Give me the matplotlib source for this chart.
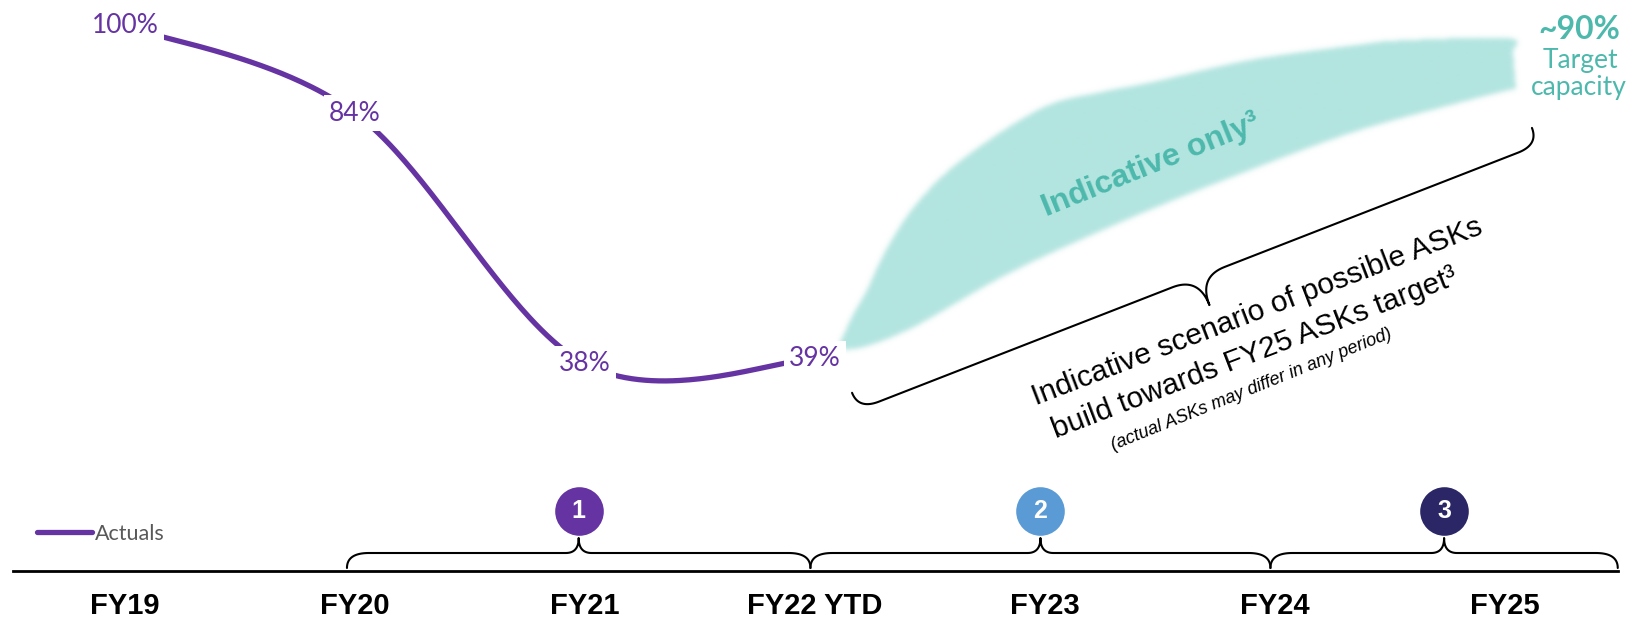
import numpy as np
import matplotlib
matplotlib.use("Agg")
import matplotlib.pyplot as plt
from matplotlib.path import Path

# ---------------- data ----------------
years = ["FY19", "FY20", "FY21", "FY22 YTD", "FY23", "FY24", "FY25"]
actual_values = [100, 84, 38, 39]
actual_labels = ["100%", "84%", "38%", "39%"]

# indicative scenario band (x = year index, v = % of pre-COVID capacity)
band_upper_x = [3.100, 3.161, 3.222, 3.304, 3.439, 3.643, 3.983, 4.239, 4.457, 4.887, 5.339, 5.543, 6.009, 6.030]
band_upper_v = [41.5, 47.0, 51.6, 58.9, 67.5, 75.8, 85.0, 87.9, 89.7, 93.8, 96.5, 97.4, 97.8, 95.6]
band_lower_x = [6.043, 5.791, 5.339, 4.887, 4.435, 3.983, 3.757, 3.439, 3.239, 3.130]
band_lower_v = [88.6, 85.9, 80.6, 73.6, 66.0, 57.6, 52.8, 45.1, 41.5, 40.6]
target_label = "~90%"

phase_numbers = ["1", "2", "3"]
phase_start = [0.965, 2.98, 4.98]
phase_end = [2.98, 4.98, 6.49]
phase_colors = ["#6633A3", "#5B9BD5", "#2B2767"]

PURPLE = "#6633A3"
TEAL_FILL = "#B3E5E0"
TEAL_TEXT = "#4DB8AC"

# ---------------- figure ----------------
fig = plt.figure(figsize=(16.32, 6.17), dpi=100)
ax = fig.add_axes([0, 0, 1, 1])
XLIM = (-0.5435, 6.552)
YLIM = (-8.44, 104.77)
ax.set_xlim(*XLIM)
ax.set_ylim(*YLIM)


def excel_smooth(x, y, n=60):
    P = np.column_stack([x, y]).astype(float)
    out = []
    for i in range(len(P) - 1):
        p0 = P[i - 1] if i > 0 else P[i]
        p1, p2 = P[i], P[i + 1]
        p3 = P[i + 2] if i + 2 < len(P) else P[i + 1]
        c1 = p1 + (p2 - p0) / 6.0
        c2 = p2 - (p3 - p1) / 6.0
        t = np.linspace(0, 1, n)[:, None]
        B = (1 - t) ** 3 * p1 + 3 * (1 - t) ** 2 * t * c1 + 3 * (1 - t) * t ** 2 * c2 + t ** 3 * p2
        out.append(B if i == 0 else B[1:])
    return np.vstack(out)


# ---------------- band (soft brush) ----------------
up = excel_smooth(band_upper_x, band_upper_v, 30)
lo = excel_smooth(band_lower_x, band_lower_v, 30)
poly = np.vstack([up, lo])
path = Path(poly)
gx0, gx1, gv0, gv1 = 2.95, 6.25, 30.0, 104.0
nx = int((gx1 - gx0) * 230)
ny = int((gv1 - gv0) * 5.45)
xs = np.linspace(gx0, gx1, nx)
vs = np.linspace(gv0, gv1, ny)
GX, GV = np.meshgrid(xs, vs)
mask = path.contains_points(np.column_stack([GX.ravel(), GV.ravel()])).reshape(ny, nx).astype(float)


def blur(a, sigma):
    r = int(3 * sigma)
    k = np.exp(-(np.arange(-r, r + 1) ** 2) / (2 * sigma ** 2))
    k /= k.sum()
    a = np.apply_along_axis(lambda m: np.convolve(m, k, mode="same"), 0, a)
    a = np.apply_along_axis(lambda m: np.convolve(m, k, mode="same"), 1, a)
    return a


alpha = np.clip(blur(mask, 2.5), 0, 1)
rgba = np.zeros((ny, nx, 4))
rgba[..., :3] = matplotlib.colors.to_rgb(TEAL_FILL)
rgba[..., 3] = alpha
ax.imshow(rgba, extent=[gx0, gx1, gv0, gv1], origin="lower", aspect="auto",
          interpolation="bilinear", zorder=1)

ax.text(4.005, 65.0, "Indicative only³", rotation=22.0, rotation_mode="anchor",
        ha="left", va="baseline", fontsize=23, fontweight="bold",
        family=["Liberation Sans", "DejaVu Sans"], color=TEAL_TEXT, zorder=2)

# ---------------- actuals line ----------------
xi = np.arange(len(actual_values))
curve = excel_smooth(xi, actual_values, 80)
ax.plot(curve[:, 0], curve[:, 1], color=PURPLE, lw=3.8, solid_capstyle="round",
        label="Actuals", zorder=3)
for x, v, lab in zip(xi, actual_values, actual_labels):
    ax.text(x, v, lab, ha="center", va="center", fontsize=19, color=PURPLE,
            family=["Lato", "DejaVu Sans"], zorder=4,
            bbox=dict(boxstyle="square,pad=0.2", fc="white", ec="none"))

# ---------------- axis ----------------
for s in ["top", "left", "right"]:
    ax.spines[s].set_visible(False)
ax.spines["bottom"].set_position(("data", 0))
ax.spines["bottom"].set_bounds(-0.489, 6.491)
ax.spines["bottom"].set_linewidth(2.0)
ax.set_yticks([])
ax.set_xticks(range(len(years)))
ax.set_xticklabels(years, fontsize=21, fontweight="bold",
                   family=["Liberation Sans", "DejaVu Sans"])
ax.tick_params(axis="x", length=0, pad=14.8)

# ---------------- braces ----------------
def quad(a, c, b, m=25):
    t = np.linspace(0, 1, m)[:, None]
    a, c, b = map(np.asarray, (a, c, b))
    return (1 - t) ** 2 * a + 2 * (1 - t) * t * c + t ** 2 * b


def draw_brace(d0, d1, h1, h2, r1, r2, side, lw=1.5):
    p0 = ax.transData.transform(d0)
    p1 = ax.transData.transform(d1)
    d = p1 - p0
    L = np.hypot(*d)
    d = d / L
    n = np.array([-d[1], d[0]]) * side
    loc = np.vstack([
        quad((0, 0), (0, h1), (r1, h1)),
        quad((L / 2 - r2, h1), (L / 2, h1), (L / 2, h1 + h2)),
        quad((L / 2, h1 + h2), (L / 2, h1), (L / 2 + r2, h1)),
        quad((L - r1, h1), (L, h1), (L, 0)),
    ])
    disp = p0 + loc[:, :1] * d + loc[:, 1:] * n
    dat = ax.transData.inverted().transform(disp)
    ax.plot(dat[:, 0], dat[:, 1], color="black", lw=lw, zorder=2,
            solid_capstyle="round")


for s0, s1, num, col in zip(phase_start, phase_end, phase_numbers, phase_colors):
    draw_brace((s0, 0.55), (s1, 0.55), 15, 15, 22, 13, +1)
    mid = (s0 + s1) / 2
    ax.scatter([mid], [11.0], s=35 ** 2, color=col, zorder=4, linewidths=0)
    ax.text(mid, 11.0, num, ha="center", va="center", color="white", fontsize=18,
            fontweight="bold", family=["Liberation Sans", "DejaVu Sans"], zorder=5)

draw_brace((3.161, 32.7), (6.117, 81.3), 18, 30, 22, 28, -1)

# ---------------- diagonal annotation ----------------
rot = 21.0
ax.text(3.961, 30.3, "Indicative scenario of possible ASKs", rotation=rot,
        rotation_mode="anchor", ha="left", va="baseline", fontsize=21.5,
        family=["Liberation Sans", "DejaVu Sans"], color="black", zorder=3)
ax.text(4.045, 24.3, "build towards FY25 ASKs target³", rotation=rot,
        rotation_mode="anchor", ha="left", va="baseline", fontsize=21.5,
        family=["Liberation Sans", "DejaVu Sans"], color="black", zorder=3)
ax.text(4.296, 22.2, "(actual ASKs may differ in any period)", rotation=22.0,
        rotation_mode="anchor", ha="left", va="baseline", fontsize=13, style="italic",
        family=["Liberation Sans", "DejaVu Sans"], color="black", zorder=3)

# ---------------- target label ----------------
ax.text(6.322, 99.3, target_label, ha="center", va="center", fontsize=23,
        fontweight="bold", color=TEAL_TEXT, family=["Lato", "DejaVu Sans"], zorder=3)
ax.text(6.326, 93.6, "Target", ha="center", va="center", fontsize=19,
        color=TEAL_TEXT, family=["Lato", "DejaVu Sans"], zorder=3)
ax.text(6.322, 88.8, "capacity", ha="center", va="center", fontsize=19,
        color=TEAL_TEXT, family=["Lato", "DejaVu Sans"], zorder=3)

# ---------------- legend ----------------
leg = ax.legend(loc="center left", bbox_to_anchor=(37 / 1632, (617 - 534) / 617),
                frameon=False, handlelength=2.55, handletextpad=0.15, borderpad=0,
                borderaxespad=0, prop={"family": ["Lato", "DejaVu Sans"], "size": 15.5})
for t in leg.get_texts():
    t.set_color("#595959")

ax.set_xlim(*XLIM)
ax.set_ylim(*YLIM)
fig.savefig("out.png", dpi=100, facecolor="white")
